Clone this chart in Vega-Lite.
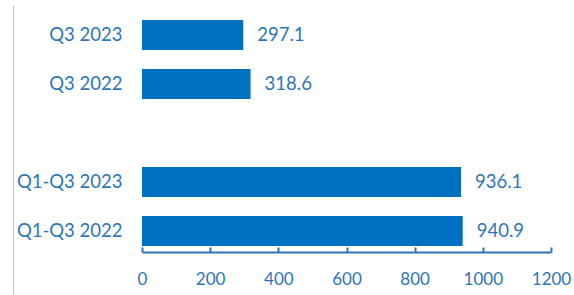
{
  "$schema": "https://vega.github.io/schema/vega-lite/v6.json",
  "autosize": "none",
  "width": 409,
  "height": 290,
  "padding": {"left": 142, "top": 5, "right": 23, "bottom": 0},
  "background": "white",
  "config": {"view": {"stroke": null}, "font": "Lato"},
  "data": {"values": [
    {"period": "Q3 2023", "value": 297.1},
    {"period": "Q3 2022", "value": 318.6},
    {"period": "Q1-Q3 2023", "value": 936.1},
    {"period": "Q1-Q3 2022", "value": 940.9}
  ]},
  "encoding": {
    "y": {
      "field": "period", "type": "nominal",
      "scale": {"domain": ["Q3 2023", "Q3 2022", " ", "Q1-Q3 2023", "Q1-Q3 2022"], "paddingInner": 0.39, "paddingOuter": 0.654, "align": 0.234},
      "axis": {"title": null, "orient": "left", "offset": 129, "domainColor": "#bfbfbf", "domainWidth": 1, "ticks": false, "tickSize": 0, "labelPadding": -109, "labelAlign": "right", "labelColor": "#2e75b6", "labelFontSize": 18.5, "labelFont": "Lato"}
    },
    "x": {
      "field": "value", "type": "quantitative",
      "scale": {"domain": [0, 1200], "nice": false},
      "axis": {"title": null, "values": [0, 200, 400, 600, 800, 1000, 1200], "format": "d", "grid": false, "offset": -43, "domainColor": "#2e75b6", "domainWidth": 2, "tickColor": "#2e75b6", "tickWidth": 2, "tickSize": -5, "labelPadding": 24, "labelColor": "#2e75b6", "labelFontSize": 17, "labelFont": "Lato", "labelFlush": false}
    }
  },
  "layer": [
    {"mark": {"type": "bar", "color": "#0070c0"}},
    {"mark": {"type": "text", "align": "left", "dx": 14, "color": "#2e75b6", "fontSize": 18.5, "font": "Lato"},
     "encoding": {"text": {"field": "value", "type": "quantitative", "format": ".1f"}}}
  ]
}
